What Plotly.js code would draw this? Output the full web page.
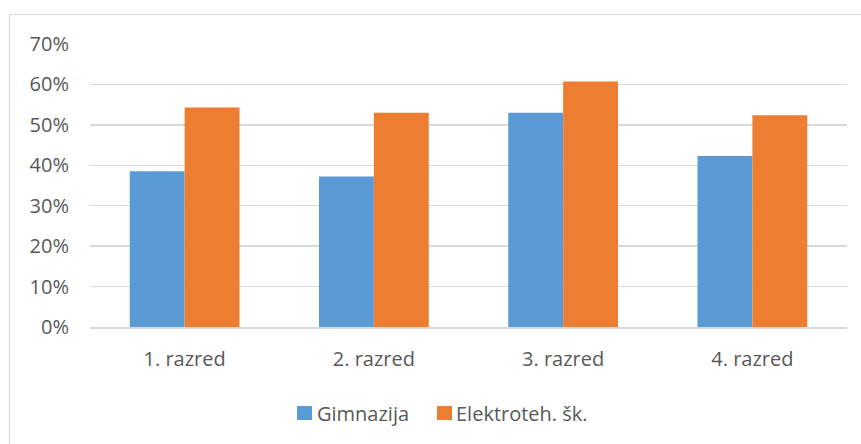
<!DOCTYPE html>
<html>
<head>
<meta charset="utf-8">
<script src="https://cdn.plot.ly/plotly-3.0.1.min.js"></script>
<style>
html,body{margin:0;padding:0;background:#fff;}
#wrap{position:relative;width:861px;height:444px;}
#chart{width:861px;height:444px;}
#frame{position:absolute;left:9px;top:14px;width:860px;height:440px;border:1px solid #d9d9d9;pointer-events:none;}
</style>
</head>
<body>
<div id="wrap"><div id="chart"></div><div id="frame"></div></div>
<script>
const categories = ["1. razred", "2. razred", "3. razred", "4. razred"];
const seriesNames = ["Gimnazija", "Elektroteh. šk."];
const gimnazija = [0.385, 0.372, 0.530, 0.423];
const elektroteh = [0.543, 0.530, 0.607, 0.524];
const yTicks = [0, 0.1, 0.2, 0.3, 0.4, 0.5, 0.6, 0.7];

const colors = ["#5B9BD5", "#ED7D31"];
const font = {family: "'Open Sans', sans-serif", size: 20, color: "#595959"};

const data = [
  {type: "bar", name: seriesNames[0], x: categories, y: gimnazija, marker: {color: colors[0]}},
  {type: "bar", name: seriesNames[1], x: categories, y: elektroteh, marker: {color: colors[1]}}
];

// Custom legend (squares + labels) placed in paper coordinates below the plot
const legendSquares = [[0.2735, 0.2933], [0.4584, 0.4782]];
const legendTextX = [0.2992, 0.4828];
const shapes = legendSquares.map((s, i) => ({
  type: "rect", xref: "paper", yref: "paper", x0: s[0], x1: s[1], y0: -0.3286, y1: -0.2792,
  fillcolor: colors[i], line: {width: 0}
}));
const annotations = seriesNames.map((n, i) => ({
  xref: "paper", yref: "paper", x: legendTextX[i], y: -0.3039, xanchor: "left", yanchor: "middle",
  text: n, showarrow: false, font: font, borderpad: 0
}));

const layout = {
  width: 861, height: 444,
  margin: {l: 90, r: 14, t: 44, b: 117},
  paper_bgcolor: "#fff", plot_bgcolor: "#fff",
  barmode: "group", bargap: 0.42, bargroupgap: 0,
  font: font,
  xaxis: {type: "category", showgrid: false, zeroline: false, showline: true, linecolor: "#d9d9d9", linewidth: 1.5,
          ticks: "", tickfont: font, ticklabelstandoff: 13},
  yaxis: {range: [0, 0.7], tickvals: yTicks, tickformat: ".0%", showgrid: true, gridcolor: "#d9d9d9", gridwidth: 1.5,
          zeroline: false, showline: false, ticks: "", tickfont: font, ticklabelstandoff: 20},
  showlegend: false,
  shapes: shapes,
  annotations: annotations
};

Plotly.newPlot("chart", data, layout, {displayModeBar: false, staticPlot: true});
</script>
</body>
</html>
